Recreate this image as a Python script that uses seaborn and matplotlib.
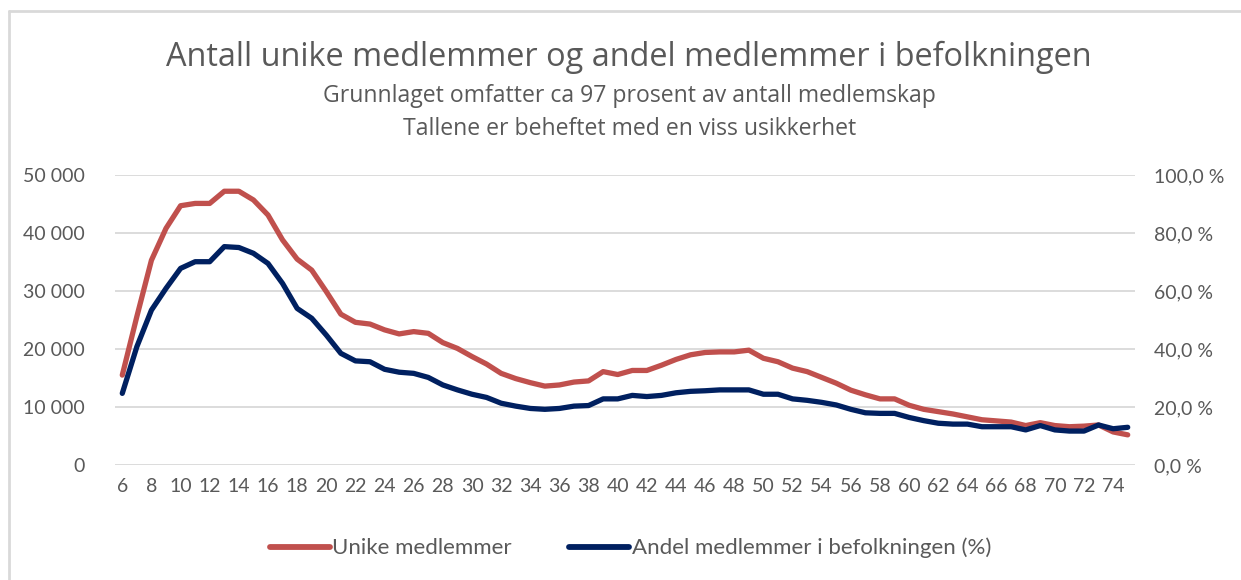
import matplotlib

matplotlib.use("Agg")

import matplotlib.pyplot as plt
import pandas as pd
import seaborn as sns
from matplotlib.lines import Line2D
from matplotlib.ticker import FuncFormatter, MultipleLocator

# Alder 6..75
ages = list(range(6, 76))

# Unike medlemmer (antall)
members = [
    15500, 25600, 35300, 40800, 44700, 45100, 45100, 47200, 47200, 45700,
    43100, 38800, 35500, 33600, 29900, 26000, 24600, 24300, 23300, 22600,
    23000, 22700, 21100, 20100, 18700, 17400, 15800, 14900, 14200, 13600,
    13800, 14300, 14500, 16100, 15600, 16300, 16300, 17200, 18200, 19000,
    19400, 19500, 19500, 19800, 18400, 17800, 16700, 16100, 15100, 14100,
    12900, 12100, 11400, 11400, 10300, 9600, 9200, 8800, 8300, 7800,
    7600, 7400, 6800, 7300, 6800, 6600, 6700, 6900, 5700, 5200,
]

# Andel medlemmer i befolkningen (%)
share = [
    24.7, 40.8, 53.4, 60.9, 67.8, 70.1, 70.1, 75.3, 75.0, 73.0,
    69.5, 62.6, 54.0, 50.6, 44.8, 38.5, 35.9, 35.6, 33.0, 32.0,
    31.6, 30.2, 27.6, 25.9, 24.4, 23.3, 21.3, 20.3, 19.5, 19.2,
    19.5, 20.3, 20.5, 22.8, 22.8, 24.0, 23.6, 24.0, 24.9, 25.4,
    25.6, 25.9, 25.9, 25.9, 24.4, 24.4, 22.8, 22.3, 21.6, 20.7,
    19.2, 18.0, 17.8, 17.8, 16.4, 15.3, 14.4, 14.1, 14.1, 13.2,
    13.2, 13.2, 12.1, 13.6, 12.1, 11.7, 11.7, 13.8, 12.5, 13.0,
]

label_members = "Unike medlemmer"
label_share = "Andel medlemmer i befolkningen (%)"
title = "Antall unike medlemmer og andel medlemmer i befolkningen"
subtitle_1 = "Grunnlaget omfatter ca 97 prosent av antall medlemskap"
subtitle_2 = "Tallene er beheftet med en viss usikkerhet"

RED = "#C0504D"
NAVY = "#002060"
GREY = "#595959"

df = pd.DataFrame({"alder": ages, "medlemmer": members, "andel": share})

sns.set_theme(style="white")
plt.rcParams["font.family"] = ["Lato", "DejaVu Sans"]

fig = plt.figure(figsize=(12.41, 5.8), dpi=100)
ax = fig.add_axes([115 / 1241, 1 - 465 / 580, 1020 / 1241, 290 / 580])
ax2 = ax.twinx()

sns.lineplot(data=df, x="alder", y="medlemmer", ax=ax, color=RED, linewidth=3.8,
             solid_capstyle="round", solid_joinstyle="round")
sns.lineplot(data=df, x="alder", y="andel", ax=ax2, color=NAVY, linewidth=3.8,
             solid_capstyle="round", solid_joinstyle="round")

ax.set_xlim(5.5, 75.5)
ax.set_ylim(0, 50000)
ax2.set_ylim(0, 100)
ax.set_xticks(ages[::2])
ax.yaxis.set_major_locator(MultipleLocator(10000))
ax2.yaxis.set_major_locator(MultipleLocator(20))
ax.yaxis.set_major_formatter(FuncFormatter(lambda v, _: f"{int(v):,}".replace(",", " ")))
ax2.yaxis.set_major_formatter(FuncFormatter(lambda v, _: f"{v:.1f} %".replace(".", ",")))

ax.grid(axis="y", color="#D9D9D9", linewidth=1.3)
ax.set_axisbelow(True)
for a in (ax, ax2):
    for s in a.spines.values():
        s.set_visible(False)
    a.set_xlabel("")
    a.set_ylabel("")
    a.tick_params(length=0, labelsize=14, labelcolor=GREY)
ax.tick_params(axis="y", pad=22)
ax2.tick_params(axis="y", pad=14)
ax.tick_params(axis="x", pad=9)

head_font = ["Open Sans", "DejaVu Sans"]
fig.text(0.507, 1 - 57 / 580, title, ha="center", va="center", fontsize=23.4,
         color=GREY, family=head_font)
fig.text(0.507, 1 - 96 / 580, subtitle_1, ha="center", va="center", fontsize=16.6,
         color=GREY, family=head_font)
fig.text(0.507, 1 - 129 / 580, subtitle_2, ha="center", va="center", fontsize=16.6,
         color=GREY, family=head_font)

handles = [Line2D([], [], color=RED, linewidth=4.2, solid_capstyle="round"),
           Line2D([], [], color=NAVY, linewidth=4.2, solid_capstyle="round")]
fig.legend(handles, [label_members, label_share], loc="center",
           bbox_to_anchor=(0.508, 1 - 548 / 580), ncol=2, frameon=False,
           fontsize=16, labelcolor=GREY, handlelength=2.7, handletextpad=0.1,
           columnspacing=2.6)

# chart border (left and top edges visible)
fig.add_artist(Line2D([9 / 1241, 9 / 1241], [0, 1 - 11 / 580], color="#D9D9D9", linewidth=2))
fig.add_artist(Line2D([9 / 1241, 1], [1 - 11 / 580, 1 - 11 / 580], color="#D9D9D9", linewidth=2))

fig.savefig("out.png", dpi=100, facecolor="white")
